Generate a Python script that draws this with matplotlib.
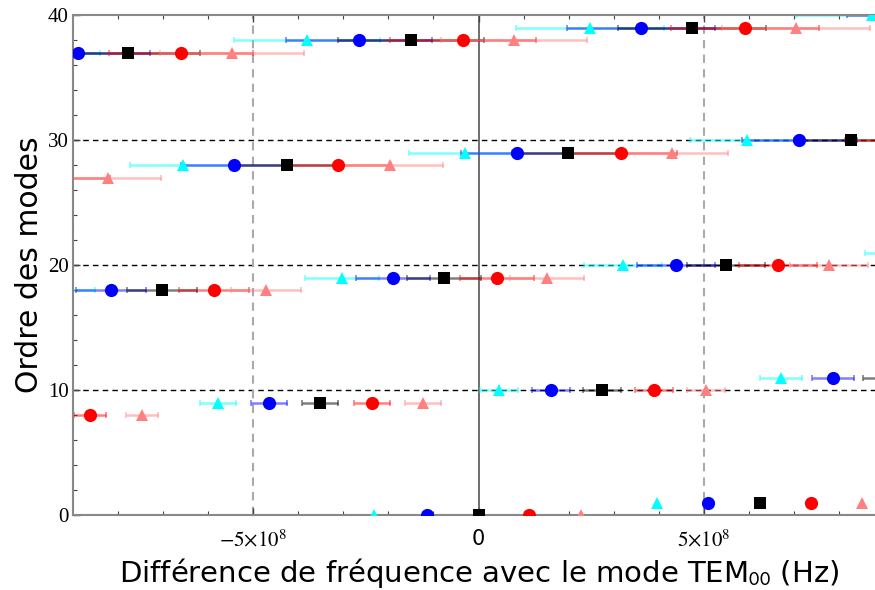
import numpy as np
import matplotlib
matplotlib.use("Agg")
import matplotlib.pyplot as plt
from matplotlib.ticker import MultipleLocator, FixedLocator

# ---- data (frequencies in units of 1e8 Hz) ----
orders = [0, 1, 8, 9, 10, 11, 18, 19, 20, 21, 27, 28, 29, 30, 37, 38, 39, 40]
xerr_e8 = [0.0, 0.03, 0.35, 0.40, 0.42, 0.47, 0.78, 0.82, 0.87, 0.91,
           1.17, 1.18, 1.24, 1.27, 1.60, 1.62, 1.64, 1.69]
nan = np.nan
cyan_tri = [-2.32, 3.96, nan, -5.78, 0.45, 6.71, -9.28, -3.03, 3.20, 9.48,
            nan, -6.55, -0.30, 5.95, -10.0, -3.80, 2.47, 8.73]
blue_circ = [-1.14, 5.09, nan, -4.65, 1.61, 7.86, -8.15, -1.90, 4.38, nan,
             nan, -5.42, 0.85, 7.11, -8.88, -2.65, 3.60, 9.86]
black_sq = [0.0, 6.24, nan, -3.51, 2.74, 8.99, -7.02, -0.76, 5.49, nan,
            nan, -4.25, 1.98, 8.26, -7.77, -1.50, 4.73, nan]
red_circ = [1.12, 7.37, -8.61, -2.36, 3.89, nan, -5.86, 0.41, 6.64, nan,
            -9.34, -3.12, 3.16, 9.39, -6.60, -0.34, 5.91, nan]
salmon_tri = [2.27, 8.50, -7.46, -1.23, 5.04, nan, -4.71, 1.52, 7.77, nan,
              -8.21, -1.96, 4.29, nan, -5.47, 0.79, 7.04, nan]

xticks_vals = [-5e8, 0, 5e8]
xtick_labels = [r"$-5{\times}10^{8}$", "0", r"$5{\times}10^{8}$"]
yticks_vals = [0, 10, 20, 30, 40]

plt.rcParams["mathtext.fontset"] = "stix"

fig = plt.figure(figsize=(8.75, 5.9), dpi=100)
ax = fig.add_axes([73 / 875, 1 - 515 / 590, 802 / 875, 500 / 590])

y = np.array(orders, dtype=float)
err = np.array(xerr_e8) * 1e8

series = [
    (cyan_tri, "#00ffff", "^", 9.0),
    (blue_circ, "#0000ff", "o", 9.5),
    (black_sq, "#000000", "s", 8.0),
    (red_circ, "#ff0000", "o", 9.5),
    (salmon_tri, "#ff8080", "^", 9.0),
]

# reference lines
for yy in [10, 20, 30]:
    ax.axhline(yy, color="black", lw=1.0, ls=(0, (4, 3)), zorder=1)
for xx in [-5e8, 5e8]:
    ax.axvline(xx, color="#aaaaaa", lw=1.5, ls=(0, (4, 3)), zorder=1)
ax.axvline(0, color="#555555", lw=1.2, zorder=1)

for vals, col, mk, ms in series:
    x = np.array(vals, dtype=float) * 1e8
    m = ~np.isnan(x)
    ax.errorbar(x[m], y[m], xerr=err[m], fmt="none", ecolor=col, alpha=0.5,
                elinewidth=1.8, capsize=2.5, capthick=1.2, zorder=2)
for vals, col, mk, ms in series:
    x = np.array(vals, dtype=float) * 1e8
    m = ~np.isnan(x)
    ax.plot(x[m], y[m], ls="none", marker=mk, color=col, ms=ms, mew=0,
            zorder=3)

ax.set_xlim(-8.99e8, 8.79e8)
ax.set_ylim(0, 40)

ax.xaxis.set_major_locator(FixedLocator(xticks_vals))
ax.set_xticklabels(xtick_labels)
ax.xaxis.set_minor_locator(MultipleLocator(1e8))
ax.yaxis.set_major_locator(FixedLocator(yticks_vals))
ax.yaxis.set_minor_locator(MultipleLocator(2))

ax.tick_params(axis="both", which="both", direction="in", colors="#444444",
               labelcolor="black", top=True, bottom=True, left=True, right=False)
ax.tick_params(axis="both", which="major", length=5, width=1.0, labelsize=15)
ax.tick_params(axis="both", which="minor", length=3, width=0.8)
ax.tick_params(axis="x", pad=10)
ax.tick_params(axis="y", pad=3)
for lab in ax.get_yticklabels():
    lab.set_fontfamily("Liberation Serif")

for side in ["left", "top", "bottom"]:
    ax.spines[side].set_color("#888888")
    ax.spines[side].set_linewidth(1.5)
ax.spines["right"].set_visible(False)

ax.set_ylabel("Ordre des modes", fontsize=21.5, family="DejaVu Sans", va="center")
ax.yaxis.set_label_coords(-0.054, 0.5)
ax.set_xlabel(r"Différence de fréquence avec le mode TEM$_{\mathsf{00}}$ (Hz)",
              fontsize=21, family="DejaVu Sans", va="center")
ax.xaxis.set_label_coords(0.507, -0.116)

fig.savefig("out.png", dpi=100)
